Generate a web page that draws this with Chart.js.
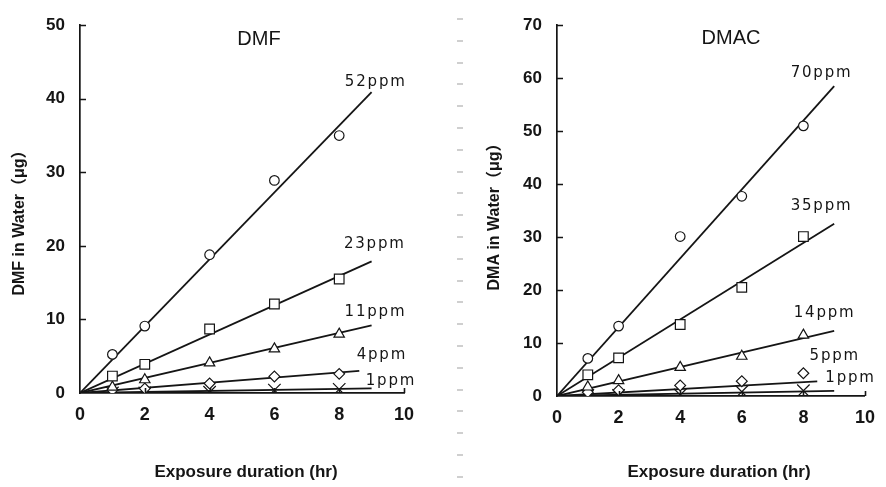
<!DOCTYPE html>
<html><head><meta charset="utf-8">
<script src="https://cdn.jsdelivr.net/npm/chart.js@4.4.1/dist/chart.umd.min.js"></script>
<style>
html,body{margin:0;padding:0;background:#fff;}
#wrap{position:relative;width:886px;height:487px;overflow:hidden;background:#fff;}
canvas{position:absolute;top:0;}
#c1{left:0;} #c2{left:443px;}
#sep{position:absolute;left:457px;top:18px;width:6px;height:462px;
 background:repeating-linear-gradient(to bottom,#cfcfcf 0,#cfcfcf 2px,transparent 2px,transparent 21.8px);}
</style></head><body>
<div id="wrap">
<canvas id="c1" width="443" height="487"></canvas>
<div id="sep"></div>
<canvas id="c2" width="443" height="487"></canvas>
</div>
<script>
// ---------- data ----------
const hours = [1, 2, 4, 6, 8];
const xTicks = [0, 2, 4, 6, 8, 10];

// DMF panel
const dmfTitle = 'DMF';
const dmfYTitle = 'DMF in Water（μg）';
const dmfYTicks = [0, 10, 20, 30, 40, 50];
const dmfSeriesNames = ['52ppm', '23ppm', '11ppm', '4ppm', '1ppm'];
const dmf52 = [5.25, 9.1, 18.8, 28.9, 35.0];
const dmf23 = [2.3, 3.9, 8.7, 12.1, 15.5];
const dmf11 = [0.8, 1.8, 4.1, 6.0, 8.0];
const dmf4  = [0.4, 0.6, 1.3, 2.25, 2.6];
const dmf1  = [0.0, 0.0, 0.1, 0.4, 0.5];
const dmfFitEndX = [9.0, 9.0, 9.0, 8.62, 9.0];
const dmfFitEndY = [40.9, 17.9, 9.2, 3.0, 0.62];
const dmfLabelX = [9.1, 9.07, 9.09, 9.29, 9.57];
const dmfLabelY = [42.2, 20.3, 11.0, 5.2, 1.65];

// DMAC panel
const dmacTitle = 'DMAC';
const dmacYTitle = 'DMA in Water（μg）';
const dmacYTicks = [0, 10, 20, 30, 40, 50, 60, 70];
const dmacSeriesNames = ['70ppm', '35ppm', '14ppm', '5ppm', '1ppm'];
const dmac70 = [7.1, 13.2, 30.1, 37.7, 51.0];
const dmac35 = [4.0, 7.2, 13.5, 20.5, 30.1];
const dmac14 = [1.7, 2.9, 5.4, 7.5, 11.5];
const dmac5  = [0.7, 1.1, 2.0, 2.8, 4.3];
const dmac1  = [0.1, 0.1, 0.2, 0.8, 1.0];
const dmacFitEndX = [9.0, 9.0, 9.0, 8.45, 9.0];
const dmacFitEndY = [58.5, 32.5, 12.3, 2.75, 0.97];
const dmacLabelX = [8.56, 8.56, 8.66, 8.99, 9.5];
const dmacLabelY = [61.0, 35.9, 15.7, 7.44, 3.3];

const xTitle = 'Exposure duration (hr)';

// ---------- styles ----------
const INK = '#151515';
const markerStyles = ['circle', 'rect', 'triangle', 'rectRot', 'crossRot'];
const markerRadii = [4.8, 6.8, 6.0, 5.4, 8.8];

function spacedText(ctx, text, cx, cy, spacing) {
  let total = 0;
  const w = [];
  for (const ch of text) { const m = ctx.measureText(ch).width; w.push(m); total += m; }
  total += spacing * (text.length - 1);
  let x = cx - total / 2;
  let i = 0;
  for (const ch of text) { ctx.fillText(ch, x, cy); x += w[i++] + spacing; }
}

function buildChart(canvasId, cfg) {
  const datasets = [];
  cfg.series.forEach((vals, i) => {
    datasets.push({
      type: 'scatter',
      data: hours.map((h, j) => ({ x: h, y: vals[j] })),
      pointStyle: markerStyles[i],
      pointRadius: markerRadii[i],
      pointBackgroundColor: '#ffffff',
      pointBorderColor: INK,
      pointBorderWidth: 1.2,
      showLine: false
    });
  });
  cfg.series.forEach((vals, i) => {
    datasets.push({
      type: 'scatter',
      data: [{ x: 0, y: 0 }, { x: cfg.fitEndX[i], y: cfg.fitEndY[i] }],
      showLine: true,
      borderColor: INK,
      borderWidth: 1.8,
      pointRadius: 0
    });
  });

  const overlay = {
    id: 'overlay',
    afterDraw(chart) {
      const ctx = chart.ctx;
      const xs = chart.scales.x, ys = chart.scales.y;
      const a = chart.chartArea;
      ctx.save();
      // inward tick marks
      ctx.strokeStyle = INK;
      ctx.lineWidth = 1.6;
      ctx.beginPath();
      xs.ticks.forEach(t => {
        if (t.value === 0) return;
        const px = Math.round(xs.getPixelForValue(t.value)) + 0.5;
        ctx.moveTo(px, a.bottom); ctx.lineTo(px, a.bottom - 5);
      });
      ys.ticks.forEach(t => {
        if (t.value === 0) return;
        const py = Math.round(ys.getPixelForValue(t.value)) + 0.5;
        ctx.moveTo(a.left, py); ctx.lineTo(a.left + 6, py);
      });
      ctx.stroke();
      // series labels
      ctx.fillStyle = INK;
      ctx.font = '15px "DejaVu Sans"';
      ctx.textBaseline = 'middle';
      ctx.textAlign = 'left';
      cfg.names.forEach((n, i) => {
        const px = xs.getPixelForValue(cfg.labelX[i]);
        const py = ys.getPixelForValue(cfg.labelY[i]);
        spacedText(ctx, n, px, py, 1.8);
      });
      // panel title
      ctx.textAlign = 'center';
      ctx.font = '20px "Liberation Sans"';
      ctx.fillText(cfg.title, cfg.titlePos[0], cfg.titlePos[1]);
      // axis titles
      ctx.font = 'bold 17px "Liberation Sans"';
      ctx.fillText(xTitle, (a.left + a.right) / 2 + cfg.xTitleShift, 472);
      ctx.save();
      ctx.translate(cfg.yTitleX, cfg.yTitleY);
      ctx.rotate(-Math.PI / 2);
      ctx.font = 'bold 16px "Liberation Sans", "Noto Sans CJK JP"';
      ctx.fillText(cfg.yTitle, 0, 0);
      ctx.restore();
      ctx.restore();
    }
  };

  return new Chart(document.getElementById(canvasId), {
    type: 'scatter',
    data: { datasets },
    options: {
      responsive: false,
      animation: false,
      events: [],
      layout: { padding: { top: 15, right: cfg.padRight, bottom: 0, left: 0 } },
      plugins: { legend: { display: false }, tooltip: { enabled: false }, title: { display: false } },
      scales: {
        x: {
          type: 'linear', min: 0, max: 10,
          afterBuildTicks: s => { s.ticks = xTicks.map(v => ({ value: v })); },
          afterFit: s => { s.height = cfg.xHeight; },
          grid: { display: false, drawTicks: false },
          border: { display: true, color: INK, width: 1.7 },
          ticks: { padding: 11, color: INK, font: { family: 'Liberation Sans', size: 18, weight: 'bold' }, maxRotation: 0 }
        },
        y: {
          type: 'linear', min: 0, max: cfg.yMax,
          afterBuildTicks: s => { s.ticks = cfg.yTicks.map(v => ({ value: v })); },
          afterFit: s => { s.width = cfg.yWidth; },
          grid: { display: false, drawTicks: false },
          border: { display: true, color: INK, width: 1.7 },
          ticks: { padding: 15, color: INK, font: { family: 'Liberation Sans', size: 17, weight: 'bold' } }
        }
      }
    },
    plugins: [overlay]
  });
}

buildChart('c1', {
  series: [dmf52, dmf23, dmf11, dmf4, dmf1],
  fitEndX: dmfFitEndX, fitEndY: dmfFitEndY,
  labelX: dmfLabelX, labelY: dmfLabelY,
  names: dmfSeriesNames, title: dmfTitle, yTitle: dmfYTitle,
  yTicks: dmfYTicks, yMax: 50,
  yWidth: 80, xHeight: 94, padRight: 39,
  titlePos: [259, 39], xTitleShift: 4, yTitleX: 20, yTitleY: 219
});
buildChart('c2', {
  series: [dmac70, dmac35, dmac14, dmac5, dmac1],
  fitEndX: dmacFitEndX, fitEndY: dmacFitEndY,
  labelX: dmacLabelX, labelY: dmacLabelY,
  names: dmacSeriesNames, title: dmacTitle, yTitle: dmacYTitle,
  yTicks: dmacYTicks, yMax: 70,
  yWidth: 114, xHeight: 91, padRight: 12,
  titlePos: [288, 38], xTitleShift: 8, yTitleX: 52, yTitleY: 213
});
</script>
</body></html>
